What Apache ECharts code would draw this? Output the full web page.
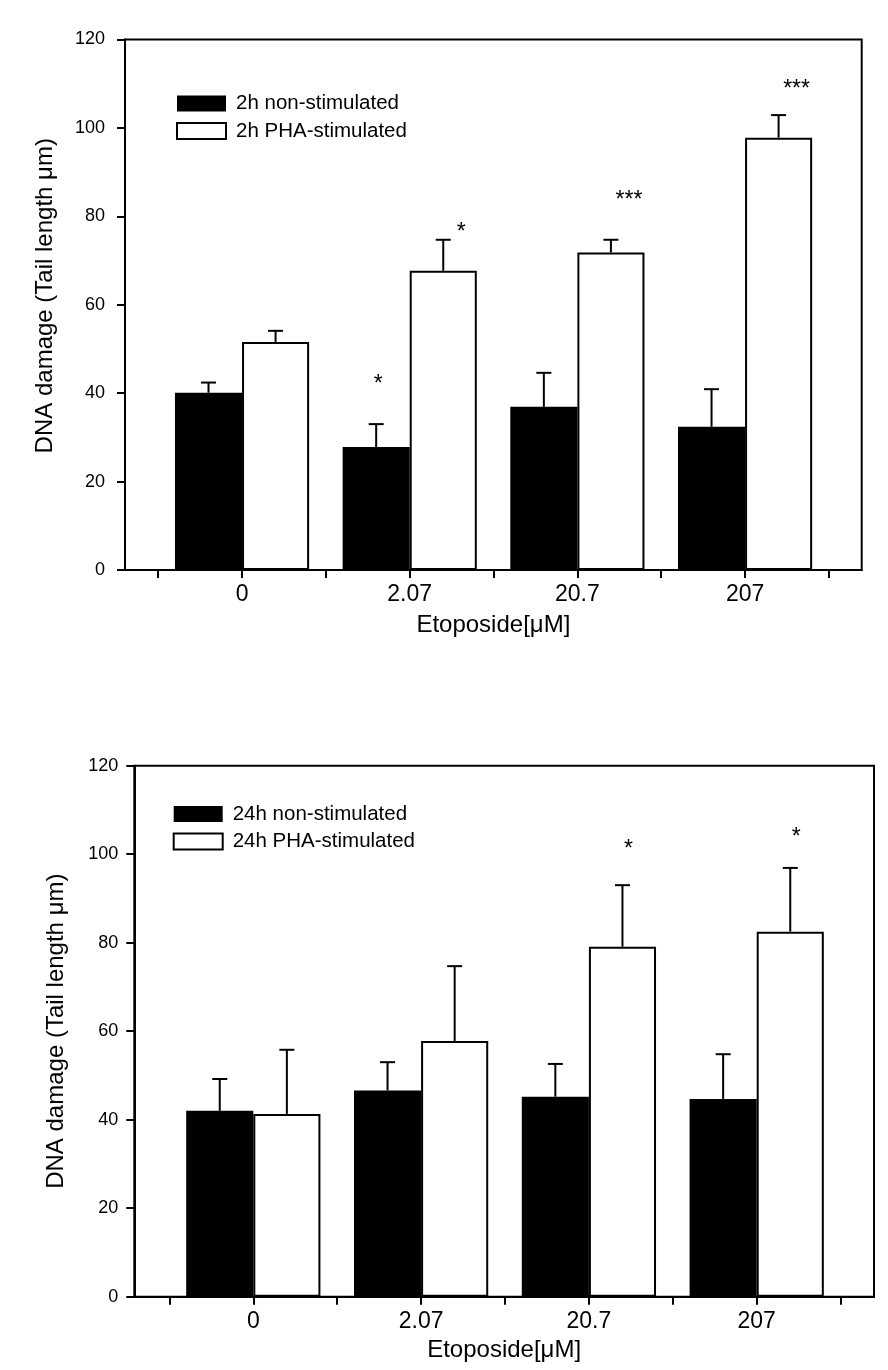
<!DOCTYPE html>
<html><head><meta charset="utf-8">
<script src="https://cdn.jsdelivr.net/npm/echarts@6/dist/echarts.min.js"></script>
<style>html,body{margin:0;padding:0;background:#fff}#c{width:888px;height:1370px}</style>
</head><body><div id="c"></div>
<script>
// ---------- data ----------
const categories = ['0', '2.07', '20.7', '207'];
const xAxisTitle = 'Etoposide[\u03bcM]';
const yAxisTitle = 'DNA damage (Tail length \u03bcm)';
const yMin = 0, yMax = 120, yStep = 20;

const names2h = ['2h non-stimulated', '2h PHA-stimulated'];
const nonStim2h    = [40.1, 27.8, 36.9, 32.4];
const nonStim2hErr = [2.3, 5.2, 7.7, 8.5];
const pha2h        = [51.6, 67.7, 71.8, 97.8];
const pha2hErr     = [2.5, 7.0, 2.9, 5.1];
const nonStim2hSig  = ['', '*', '', ''];
const nonStim2hSigY = [null, 42.6, null, null];
const pha2hSig      = ['', '*', '***', '***'];
const pha2hSigY     = [null, 76.9, 84.2, 109.3];

const names24h = ['24h non-stimulated', '24h PHA-stimulated'];
const nonStim24h    = [42.0, 46.6, 45.2, 44.7];
const nonStim24hErr = [7.2, 6.4, 7.4, 10.1];
const pha24h        = [41.3, 57.8, 79.1, 82.5];
const pha24hErr     = [14.5, 16.9, 13.9, 14.4];
const nonStim24hSig  = ['', '', '', ''];
const nonStim24hSigY = [null, null, null, null];
const pha24hSig      = ['', '', '*', '*'];
const pha24hSigY     = [null, null, 101.5, 104.3];

// ---------- styling ----------
const FONT = '"Liberation Sans", Arial, sans-serif';
const BLACK = '#000';

function errRender(side) {
  return function (params, api) {
    const i = api.value(0), v = api.value(1), e = api.value(2);
    const base = api.coord([i, v]);
    const tp = api.coord([i, v + e]);
    const band = api.size([1, 0])[0];
    const x = base[0] + side * band * 0.2;
    return {
      type: 'group',
      children: [
        { type: 'line', shape: { x1: x, y1: base[1], x2: x, y2: tp[1] }, style: { stroke: BLACK, lineWidth: 2 } },
        { type: 'line', shape: { x1: x - 7.5, y1: tp[1], x2: x + 7.5, y2: tp[1] }, style: { stroke: BLACK, lineWidth: 2 } }
      ]
    };
  };
}
function sigRender(side, dx, texts) {
  return function (params, api) {
    const i = api.value(0), y = api.value(1);
    const p = api.coord([i, y]);
    const band = api.size([1, 0])[0];
    return {
      type: 'text',
      x: p[0] + side * band * 0.2 + dx,
      y: p[1] + 2.5,
      style: { text: texts[params.dataIndex], fill: BLACK, font: '23px ' + FONT, align: 'center', verticalAlign: 'middle' }
    };
  };
}
function sigData(sig, sigY) {
  const d = [], t = [];
  sig.forEach((s, i) => { if (s) { d.push([i, sigY[i]]); t.push(s); } });
  return { d, t };
}

function buildPanel(o) {
  const g0 = o.gi, g1 = o.gi + 1;
  const grids = [
    { left: o.frameLeft, width: o.frameWidth, top: o.top, height: o.height, show: true, borderColor: BLACK, borderWidth: 2, backgroundColor: 'transparent' },
    { left: o.barLeft, width: o.barWidth, top: o.top, height: o.height, show: false }
  ];
  const xAxes = [
    { type: 'value', gridIndex: g0, min: 0, max: 1, axisLine: { show: true, lineStyle: { color: BLACK, width: 2 } },
      axisTick: { show: false }, axisLabel: { show: false }, splitLine: { show: false },
      name: xAxisTitle, nameLocation: 'middle', nameGap: o.xNameGap,
      nameTextStyle: { fontSize: 24, color: BLACK, fontFamily: FONT } },
    { type: 'category', gridIndex: g1, data: categories, position: 'bottom', boundaryGap: true,
      axisLine: { show: false },
      axisTick: { show: true, interval: 0, alignWithLabel: false, length: 8, lineStyle: { color: BLACK, width: 2 } },
      axisLabel: { show: true, interval: 0, fontSize: 23, color: BLACK, fontFamily: FONT, margin: 13 } },
    { type: 'category', gridIndex: g1, data: categories, position: 'bottom', boundaryGap: true,
      axisLine: { show: false },
      axisTick: { show: true, interval: 0, alignWithLabel: true, length: 8, lineStyle: { color: BLACK, width: 2 } },
      axisLabel: { show: false } }
  ];
  const yAxes = [
    { type: 'value', gridIndex: g0, min: yMin, max: yMax, interval: yStep,
      axisLine: { show: true, lineStyle: { color: BLACK, width: 2 } },
      axisTick: { show: true, length: 8, lineStyle: { color: BLACK, width: 2 } },
      axisLabel: { fontSize: 18, color: BLACK, fontFamily: FONT, margin: o.yLabelMargin },
      splitLine: { show: false },
      name: yAxisTitle, nameLocation: 'middle', nameGap: o.yNameGap, nameRotate: 90,
      nameTextStyle: { fontSize: 24, color: BLACK, fontFamily: FONT, padding: o.yNamePad } },
    { type: 'value', gridIndex: g1, min: yMin, max: yMax, interval: yStep, show: false, splitLine: { show: false } }
  ];
  const xb = o.xi + 1, yb = o.yi + 1;
  const s0 = sigData(o.sig0, o.sigY0), s1 = sigData(o.sig1, o.sigY1);
  const series = [
    { type: 'bar', name: o.names[0], xAxisIndex: xb, yAxisIndex: yb, data: o.v0, barWidth: '40%', barGap: '0%',
      itemStyle: { color: BLACK }, z: 2, emphasis: { disabled: true } },
    { type: 'bar', name: o.names[1], xAxisIndex: xb, yAxisIndex: yb, data: o.v1, barWidth: '40%', barGap: '0%',
      itemStyle: { color: '#fff', borderColor: BLACK, borderWidth: 2 }, z: 2, emphasis: { disabled: true } },
    { type: 'custom', name: 'err0_' + o.gi, xAxisIndex: xb, yAxisIndex: yb, renderItem: errRender(-1),
      data: o.v0.map((v, i) => [i, v, o.e0[i]]), z: 3, silent: true },
    { type: 'custom', name: 'err1_' + o.gi, xAxisIndex: xb, yAxisIndex: yb, renderItem: errRender(1),
      data: o.v1.map((v, i) => [i, v, o.e1[i]]), z: 3, silent: true },
    { type: 'custom', name: 'sig0_' + o.gi, xAxisIndex: xb, yAxisIndex: yb, renderItem: sigRender(-1, o.sigDx0, s0.t),
      data: s0.d, z: 4, silent: true },
    { type: 'custom', name: 'sig1_' + o.gi, xAxisIndex: xb, yAxisIndex: yb, renderItem: sigRender(1, o.sigDx1, s1.t),
      data: s1.d, z: 4, silent: true }
  ];
  const legend = {
    orient: 'vertical', left: o.legLeft, top: o.legTop, itemWidth: 49, itemHeight: 16, itemGap: 6.5,
    padding: 0, selectedMode: false, icon: 'rect',
    textStyle: { fontSize: 20.5, color: BLACK, fontFamily: FONT, padding: [0, 0, 0, 5] },
    data: [
      { name: o.names[0], itemStyle: { color: BLACK, borderWidth: 0 } },
      { name: o.names[1], itemStyle: { color: '#fff', borderColor: BLACK, borderWidth: 2 } }
    ]
  };
  return { grids, xAxes, yAxes, series, legend };
}

const panelTop = buildPanel({
  gi: 0, xi: 0, yi: 0,
  frameLeft: 125, frameWidth: 736.7, top: 39.5, height: 530.5,
  barLeft: 158.2, barWidth: 670.7,
  xNameGap: 43, yNameGap: 68, yLabelMargin: 20, yNamePad: [0, 0, 0, 18],
  names: names2h, v0: nonStim2h, e0: nonStim2hErr, v1: pha2h, e1: pha2hErr,
  sig0: nonStim2hSig, sigY0: nonStim2hSigY, sig1: pha2hSig, sigY1: pha2hSigY, sigDx0: 2, sigDx1: 18,
  legLeft: 176, legTop: 93
});
const panelBottom = buildPanel({
  gi: 2, xi: 3, yi: 2,
  frameLeft: 134.3, frameWidth: 739.7, top: 765.7, height: 531,
  barLeft: 169.4, barWidth: 671.2,
  xNameGap: 42, yNameGap: 66, yLabelMargin: 16, yNamePad: [0, 0, 0, 0],
  names: names24h, v0: nonStim24h, e0: nonStim24hErr, v1: pha24h, e1: pha24hErr,
  sig0: nonStim24hSig, sigY0: nonStim24hSigY, sig1: pha24hSig, sigY1: pha24hSigY, sigDx0: 0, sigDx1: 6,
  legLeft: 172.7, legTop: 803.5
});

const chart = echarts.init(document.getElementById('c'), null, { renderer: 'canvas' });
chart.setOption({
  animation: false,
  backgroundColor: '#fff',
  textStyle: { fontFamily: FONT },
  grid: panelTop.grids.concat(panelBottom.grids),
  xAxis: panelTop.xAxes.concat(panelBottom.xAxes),
  yAxis: panelTop.yAxes.concat(panelBottom.yAxes),
  legend: [panelTop.legend, panelBottom.legend],
  series: panelTop.series.concat(panelBottom.series)
});
</script></body></html>
